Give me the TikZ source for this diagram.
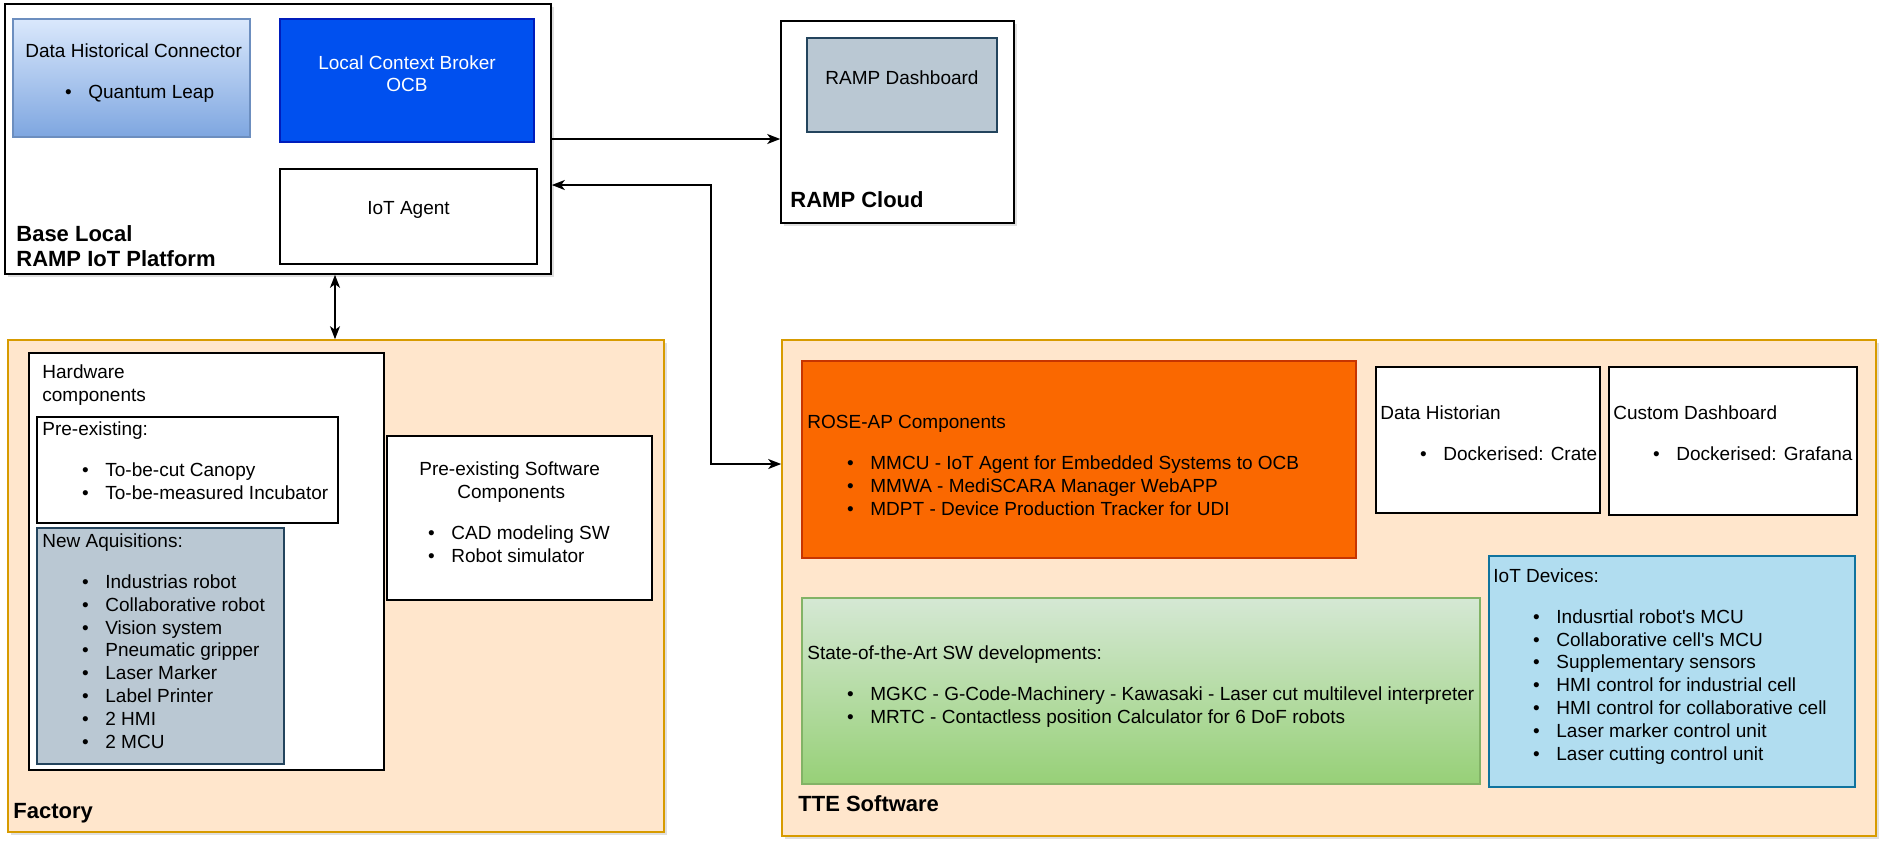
\documentclass[tikz,border=0pt]{standalone}
\usepackage{fontspec}
\setmainfont{Liberation Sans}
\usetikzlibrary{arrows.meta,positioning,fit,shadows}
\definecolor{areafill}{HTML}{FFE6CC}
\definecolor{arealine}{HTML}{D79B00}
\definecolor{dhctop}{HTML}{DAE8FC}
\definecolor{dhcbot}{HTML}{7EA6E0}
\definecolor{dhcline}{HTML}{6C8EBF}
\definecolor{ocbfill}{HTML}{0050EF}
\definecolor{ocbline}{HTML}{001DBC}
\definecolor{slate}{HTML}{BAC8D3}
\definecolor{slateline}{HTML}{23445D}
\definecolor{rosefill}{HTML}{FA6800}
\definecolor{roseline}{HTML}{C73500}
\definecolor{sotatop}{HTML}{D5E8D4}
\definecolor{sotabot}{HTML}{97D077}
\definecolor{sotaline}{HTML}{82B366}
\definecolor{devfill}{HTML}{B1DDF0}
\definecolor{devline}{HTML}{10739E}
\newcommand{\itm}[2][31.5pt]{\makebox[#1][r]{\textbullet\hspace{8.3pt}}#2}
\tikzset{
    line/.style  = {-{Stealth[length=6.5pt,width=5pt,inset=1.8pt]}, line width=0.8pt, draw=black},
    dline/.style = {line, {Stealth[length=6.5pt,width=5pt,inset=1.8pt]}-{Stealth[length=6.5pt,width=5pt,inset=1.8pt]}},
    block/.style = {draw=black, line width=0.8pt, fill=white, inner sep=0pt,
            align=center, font=\fontsize{9.5}{11.4}\selectfont},
    frame/.style = {block, drop shadow={shadow xshift=1.5pt, shadow yshift=-1.5pt, opacity=0.25}},
    area/.style  = {frame, draw=arealine, fill=areafill},
    % texts sit on the baseline of their last line
    txt/.style   = {anchor=base west, align=left, inner sep=0pt, font=\fontsize{9.5}{11.4}\selectfont},
    head/.style  = {txt, font=\fontsize{11}{12.5}\selectfont\bfseries},
}
\begin{document}
\begin{tikzpicture}[x=0.5pt, y=-0.5pt]
    \useasboundingbox (0,0) rectangle (1882,843);
    % Base Local platform
    \node[frame, fit={(5,4) (551,274)}] (base) {};
    \node[block, top color=dhctop, bottom color=dhcbot, draw=dhcline, fit={(13,19) (250,137)}] (dhc) {};
    \node[block, fill=ocbfill, draw=ocbline, text=white, fit={(280,19) (534,142)}] (ocb) {Local Context Broker\\OCB};
    \node[block, fit={(280,169) (537,264)}] (agent) {IoT Agent};
    \node[txt] (dhctext) at (25,98) {Data Historical Connector\\[9.1pt]\itm{Quantum Leap}};
    \node[head] (baselabel) at (16,266) {Base Local\\RAMP IoT Platform};
    % Cloud
    \node[frame, fit={(781,21) (1014,223)}] (cloud) {};
    \node[block, fill=slate, draw=slateline, fit={(807,38) (997,132)}] (dash) {RAMP Dashboard};
    \node[head] (cloudlabel) at (790,207) {RAMP Cloud};
    % Factory
    \node[area, fit={(8,340) (664,832)}] (factory) {};
    \node[block, fit={(29,353) (384,770)}] (hw) {};
    \node[txt] (hwtext) at (42,401) {Hardware\\components};
    \node[block, fit={(37,417) (338,523)}] (preex) {};
    \node[txt] (preextext) at (42,499) {Pre-existing:\\[9.1pt]\itm{To-be-cut Canopy}\\\itm{To-be-measured Incubator}};
    \node[block, fill=slate, draw=slateline, fit={(37,528) (284,764)}] (newacq) {};
    \node[txt] (newacqtext) at (42,748) {New Aquisitions:\\[9.1pt]\itm{Industrias robot}\\\itm{Collaborative robot}\\
        \itm{Vision system}\\\itm{Pneumatic gripper}\\\itm{Laser Marker}\\\itm{Label Printer}\\\itm{2 HMI}\\\itm{2 MCU}};
    \node[block, fit={(387,436) (652,600)}] (presw) {};
    \node[txt] (preswtext) at (419,562) {Pre-existing Software\\\hspace*{19pt}Components\\[9.1pt]
        \itm[16pt]{CAD modeling SW}\\\itm[16pt]{Robot simulator}};
    \node[head] (factorylabel) at (13,818) {Factory};
    % TTE Software
    \node[area, fit={(782,340) (1876,836)}] (tte) {};
    \node[block, fill=rosefill, draw=roseline, fit={(802,361) (1356,558)}] (rose) {};
    \node[txt] (rosetext) at (807,515) {ROSE-AP Components\\[9.1pt]\itm{MMCU - IoT Agent for Embedded Systems to OCB}\\
        \itm{MMWA - MediSCARA Manager WebAPP}\\\itm{MDPT - Device Production Tracker for UDI}};
    \node[block, fit={(1376,367) (1600,513)}] (hist) {};
    \node[txt] (histtext) at (1380,460) {Data Historian\\[9.1pt]\itm{Dockerised: Crate}};
    \node[block, fit={(1609,367) (1857,515)}] (cdash) {};
    \node[txt] (cdashtext) at (1613,460) {Custom Dashboard\\[9.1pt]\itm{Dockerised: Grafana}};
    \node[block, top color=sotatop, bottom color=sotabot, draw=sotaline, fit={(802,598) (1480,784)}] (sota) {};
    \node[txt] (sotatext) at (807,723) {State-of-the-Art SW developments:\\[9.1pt]
        \itm{MGKC - G-Code-Machinery - Kawasaki - Laser cut multilevel interpreter}\\
        \itm{MRTC - Contactless position Calculator for 6 DoF robots}};
    \node[block, fill=devfill, draw=devline, fit={(1489,556) (1855,787)}] (devices) {};
    \node[txt] (devtext) at (1493,760) {IoT Devices:\\[9.1pt]\itm{Indusrtial robot\textquotesingle s MCU}\\
        \itm{Collaborative cell\textquotesingle s MCU}\\\itm{Supplementary sensors}\\\itm{HMI control for industrial cell}\\
        \itm{HMI control for collaborative cell}\\\itm{Laser marker control unit}\\\itm{Laser cutting control unit}};
    \node[head] (ttelabel) at (798,811) {TTE Software};
    % Arrows
    \coordinate (upbend) at (711,185);
    \coordinate (lowbend) at (711,464);
    \coordinate (vlink) at (335,0);
    \draw[line] (base.east) -- (base.east -| cloud.west);
    \draw[dline] (base.east |- upbend) -- (upbend) -- (lowbend) -- (tte.west |- lowbend);
    \draw[dline] (base.south -| vlink) -- (factory.north -| vlink);
\end{tikzpicture}
\end{document}
